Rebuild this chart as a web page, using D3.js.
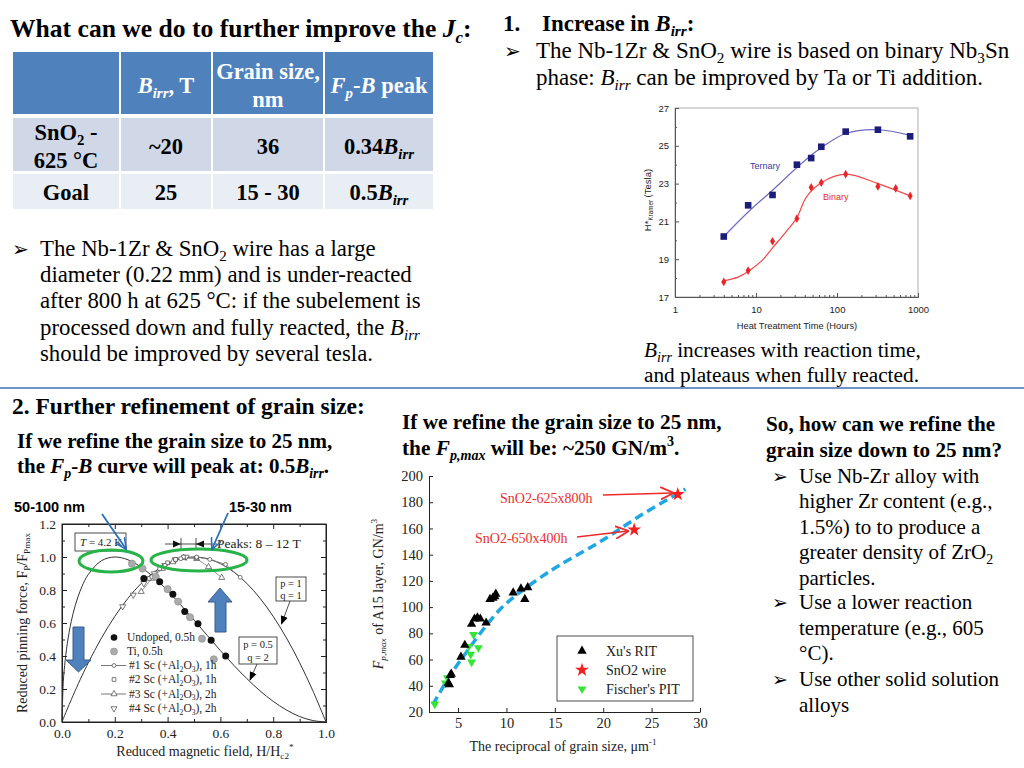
<!DOCTYPE html>
<html><head><meta charset="utf-8">
<script src="https://cdn.jsdelivr.net/npm/d3@7"></script>
<style>body{margin:0;background:#fff}</style>
</head><body>
<svg id="s" width="1024" height="768"></svg>
<script>
const SERIF = "'Liberation Serif','Times New Roman',serif";
const SANS = "'Liberation Sans',Arial,sans-serif";
const BUL = "'DejaVu Sans',sans-serif";

// ---------------- DATA ----------------
// Table
const tableRowNames = [["SnO2 -", "625 °C"], ["Goal"]];
const tableBirr = ["~20", "25"];
const tableGrain = ["36", "15 - 30"];
const tablePeak = ["0.34", "0.5"];

// Top-right chart: H*Kramer vs heat treatment time
const ternaryTime = [4, 8, 16, 32, 48, 64, 128, 320, 800];
const ternaryHk = [20.2, 21.85, 22.4, 24.0, 24.35, 24.95, 25.75, 25.85, 25.5];
const binaryTime = [4, 8, 16, 32, 48, 64, 128, 320, 530, 800];
const binaryHk = [17.8, 18.4, 19.95, 21.15, 22.8, 23.05, 23.5, 22.85, 22.75, 22.35];
const ternaryFitTime = [4, 8, 16, 32, 48, 64, 128, 320, 800];
const ternaryFitHk = [20.2, 21.5, 22.65, 23.85, 24.5, 24.9, 25.65, 25.85, 25.55];
const binaryFitTime = [4, 6, 8, 12, 16, 24, 32, 42, 64, 128, 320, 800];
const binaryFitHk = [17.85, 18.05, 18.35, 18.95, 19.6, 20.5, 21.2, 22.3, 23.05, 23.5, 23.0, 22.35];
const hkTicks = [17, 19, 21, 23, 25, 27];
const hkMinor = [18, 20, 22, 24, 26];
const timeTicks = [1, 10, 100, 1000];
const timeMinor = [2,3,4,5,6,7,8,9,20,30,40,50,60,70,80,90,200,300,400,500,600,700,800,900];

// Bottom-left chart: reduced pinning force vs reduced field
const curveH = [0, 0.005, 0.01, 0.02, 0.035, 0.05, 0.075, 0.1, 0.15, 0.2, 0.25, 0.3, 0.35, 0.4, 0.45, 0.5, 0.55, 0.6, 0.65, 0.7, 0.75, 0.8, 0.85, 0.9, 0.95, 1.0];
const curveP05Q2 = [0, 0.245, 0.342, 0.475, 0.609, 0.705, 0.819, 0.895, 0.978, 1.0, 0.983, 0.938, 0.873, 0.796, 0.709, 0.618, 0.525, 0.433, 0.345, 0.263, 0.189, 0.125, 0.073, 0.033, 0.009, 0];
const curveP1Q1 = [0, 0.02, 0.04, 0.078, 0.135, 0.19, 0.278, 0.36, 0.51, 0.64, 0.75, 0.84, 0.91, 0.96, 0.99, 1.0, 0.99, 0.96, 0.91, 0.84, 0.75, 0.64, 0.51, 0.36, 0.19, 0];
const undopedH = [0.31, 0.37, 0.42, 0.465, 0.515, 0.565, 0.62];
const undopedF = [0.87, 0.85, 0.775, 0.67, 0.595, 0.495, 0.40];
const tiH = [0.265, 0.305, 0.355, 0.40, 0.44, 0.485, 0.53, 0.575];
const tiF = [0.96, 0.93, 0.88, 0.805, 0.73, 0.635, 0.505, 0.38];
const sc1H = [0.34, 0.39, 0.45, 0.51, 0.56, 0.62, 0.675];
const sc1F = [0.88, 0.95, 0.99, 1.0, 0.985, 0.955, 0.877];
const sc2H = [0.33, 0.37, 0.40, 0.43, 0.46, 0.51];
const sc2F = [0.87, 0.93, 0.965, 0.985, 1.0, 0.995];
const sc3H = [0.30, 0.34, 0.38, 0.42, 0.46, 0.51, 0.555, 0.605];
const sc3F = [0.79, 0.87, 0.93, 0.97, 0.995, 0.99, 0.94, 0.875];
const sc4H = [0.23, 0.27, 0.31, 0.35, 0.39, 0.43, 0.47];
const sc4F = [0.70, 0.77, 0.84, 0.90, 0.95, 0.985, 1.0];
const fpTicks = [0, 0.2, 0.4, 0.6, 0.8, 1.0, 1.2];
const fpMinor = [0.1, 0.3, 0.5, 0.7, 0.9, 1.1];
const hTicks = [0, 0.2, 0.4, 0.6, 0.8, 1.0];
const hMinor = [0.1, 0.3, 0.5, 0.7, 0.9];

// Bottom-middle chart: Fp,max vs reciprocal grain size
const xuX = [4.0, 4.1, 4.2, 4.3, 5.3, 5.7, 6.4, 6.7, 7.0, 7.3, 7.9, 8.3, 8.6, 8.8, 8.9, 10.7, 11.5, 11.9, 12.2];
const xuY = [42, 41, 48, 49, 62, 71, 87, 91, 92, 91, 88, 106, 107, 108, 110, 111, 114, 106, 115];
const sno2X = [23.2, 27.7];
const sno2Y = [159, 186];
const fischerX = [2.6, 3.7, 3.9, 6.1, 6.3, 6.4, 6.6, 7.1];
const fischerY = [26, 42, 46, 70, 64, 58, 79, 69];
const fitX = [2.4, 4.1, 5.9, 7.4, 9.3, 11, 13.8, 15.5, 19.7, 24.1, 28.5];
const fitY = [25.6, 47, 66, 81, 98, 109, 124, 132, 150, 171, 190];
const recipTicks = [5, 10, 15, 20, 25, 30];
const fpmaxTicks = [20, 40, 60, 80, 100, 120, 140, 160, 180, 200];
const fpmaxLegend = ["Xu's RIT", "SnO2 wire", "Fischer's PIT"];

// ---------------- HELPERS ----------------
const svg = d3.select('#s');
svg.append('rect').attr('width', 1024).attr('height', 768).attr('fill', '#fff');

function rich(parent, x, y, segs, o) {
  const t = parent.append('text').attr('x', x).attr('y', y)
    .attr('font-family', o.ff || SERIF).attr('font-size', o.fs)
    .attr('font-weight', o.fw || 'normal').attr('fill', o.fill || '#000')
    .attr('text-anchor', o.anchor || 'start');
  if (o.transform) t.attr('transform', o.transform);
  let cur = 0;
  segs.forEach(s => {
    if (typeof s === 'string') s = { t: s };
    const target = s.sub ? o.fs * 0.22 : s.sup ? -o.fs * 0.4 : 0;
    const sp = t.append('tspan').text(s.t);
    if (target - cur !== 0) sp.attr('dy', target - cur);
    cur = target;
    if (s.sub || s.sup) sp.attr('font-size', o.fs * 0.66);
    if (s.it) sp.attr('font-style', 'italic');
    if (s.fw) sp.attr('font-weight', s.fw);
  });
  return t;
}
function bullet(x, y, fs) {
  svg.append('text').attr('x', x).attr('y', y).attr('font-family', BUL)
    .attr('font-size', fs).text('\u27A2');
}
const defs = svg.append('defs');
function marker(id, color, filled, size) {
  const m = defs.append('marker').attr('id', id).attr('viewBox', '0 0 10 10')
    .attr('refX', 9).attr('refY', 5).attr('markerWidth', size).attr('markerHeight', size)
    .attr('markerUnits', 'userSpaceOnUse').attr('orient', 'auto');
  if (filled) m.append('path').attr('d', 'M0,1 L10,5 L0,9 Z').attr('fill', color);
  else m.append('path').attr('d', 'M0,0.5 L9.5,5 L0,9.5').attr('fill', 'none').attr('stroke', color).attr('stroke-width', 1.3);
}
marker('aBlue', '#2a6fb8', false, 12);
marker('aRed', '#ee2b2b', false, 14);
marker('aBlk', '#000', true, 9);

// ---------------- HEADER + TABLE ----------------
rich(svg, 10, 37, ['What can we do to further improve the ', { t: 'J', it: 1 }, { t: 'c', sub: 1, it: 1 }, ':'], { fs: 25.6, fw: 'bold' });

const tbl = svg.append('g');
const colX = [13, 121, 213, 325], colW = [106, 90, 110, 108];
const rowY = [52, 118, 174], rowH = [62, 53, 35];
const rowFill = ['#4f81bd', '#d0d8e8', '#e9edf4'];
rowY.forEach((ry, r) => colX.forEach((cx, c) => {
  tbl.append('rect').attr('x', cx).attr('y', ry).attr('width', colW[c]).attr('height', rowH[r]).attr('fill', rowFill[r]);
}));
const cxm = colX.map((x, i) => x + colW[i] / 2);
const TF = 22.5;
const hOpt = { fs: TF, fw: 'bold', fill: '#fff', anchor: 'middle' };
rich(tbl, cxm[1], 93, [{ t: 'B', it: 1 }, { t: 'irr', sub: 1, it: 1 }, ', T'], hOpt);
rich(tbl, cxm[2], 79, ['Grain size,'], hOpt);
rich(tbl, cxm[2], 107, ['nm'], hOpt);
rich(tbl, cxm[3], 93, [{ t: 'F', it: 1 }, { t: 'p', sub: 1, it: 1 }, '-', { t: 'B', it: 1 }, ' peak'], hOpt);
const bOpt = { fs: TF, fw: 'bold', anchor: 'middle' };
const rowBase = [154, 200];
tableRowNames.forEach((nm, r) => {
  if (nm.length === 2) {
    rich(tbl, cxm[0], 140, ['SnO', { t: '2', sub: 1 }, ' -'], bOpt);
    rich(tbl, cxm[0], 168, [nm[1]], bOpt);
  } else rich(tbl, cxm[0], rowBase[r], [nm[0]], bOpt);
  rich(tbl, cxm[1], rowBase[r], [tableBirr[r]], bOpt);
  rich(tbl, cxm[2], rowBase[r], [tableGrain[r]], bOpt);
  rich(tbl, cxm[3], rowBase[r], [tablePeak[r], { t: 'B', it: 1 }, { t: 'irr', sub: 1, it: 1 }], bOpt);
});

// ---------------- TOP RIGHT TEXT ----------------
rich(svg, 503, 31, ['1.'], { fs: 23, fw: 'bold' });
rich(svg, 542, 31, ['Increase in ', { t: 'B', it: 1 }, { t: 'irr', sub: 1, it: 1 }, ':'], { fs: 23, fw: 'bold' });
bullet(504, 58, 20);
rich(svg, 536, 58, ['The Nb-1Zr & SnO', { t: '2', sub: 1 }, ' wire is based on binary Nb', { t: '3', sub: 1 }, 'Sn'], { fs: 23 });
rich(svg, 536, 85, ['phase: ', { t: 'B', it: 1 }, { t: 'irr', sub: 1, it: 1 }, ' can be improved by Ta or Ti addition.'], { fs: 23 });

// ---------------- LEFT PARAGRAPH ----------------
const pOpt = { fs: 22.8 };
bullet(12, 256, 20);
rich(svg, 40, 256, ['The Nb-1Zr & SnO', { t: '2', sub: 1 }, ' wire has a large'], pOpt);
rich(svg, 40, 282, ['diameter (0.22 mm) and is under-reacted'], pOpt);
rich(svg, 40, 308, ['after 800 h at 625 °C: if the subelement is'], pOpt);
rich(svg, 40, 335, ['processed down and fully reacted, the ', { t: 'B', it: 1 }, { t: 'irr', sub: 1, it: 1 }], pOpt);
rich(svg, 40, 361, ['should be improved by several tesla.'], pOpt);

// ---------------- TOP RIGHT CHART ----------------
{
  const g = svg.append('g');
  const x = d3.scaleLog().domain([1, 1000]).range([675, 918]);
  const y = d3.scaleLinear().domain([17, 27]).range([297, 108]);
  g.append('rect').attr('x', 675).attr('y', 108).attr('width', 243).attr('height', 189)
    .attr('fill', 'none').attr('stroke', '#9a9a9a').attr('stroke-width', 0.8);
  const ya = g.append('g').attr('transform', 'translate(675,0)')
    .call(d3.axisLeft(y).tickValues(hkTicks).tickSize(-4).tickSizeOuter(0).tickPadding(6).tickFormat(d3.format('d')));
  g.append('g').attr('transform', 'translate(675,0)')
    .call(d3.axisLeft(y).tickValues(hkMinor).tickSize(-2).tickSizeOuter(0).tickFormat(''));
  const xa = g.append('g').attr('transform', 'translate(0,297)')
    .call(d3.axisBottom(x).tickValues(timeTicks).tickSize(-4).tickSizeOuter(0).tickPadding(9).tickFormat(d3.format('d')));
  g.append('g').attr('transform', 'translate(0,297)')
    .call(d3.axisBottom(x).tickValues(timeMinor).tickSize(-2).tickSizeOuter(0).tickFormat(''));
  g.selectAll('.domain').attr('stroke', '#555');
  g.selectAll('.tick line').attr('stroke', '#555');
  [ya, xa].forEach(a => a.attr('font-family', SANS).attr('font-size', 9.5).selectAll('text').attr('fill', '#222'));
  const line = d3.line().x(d => x(d[0])).y(d => y(d[1])).curve(d3.curveCatmullRom.alpha(0.5));
  g.append('path').datum(ternaryFitTime.map((t, i) => [t, ternaryFitHk[i]])).attr('d', line)
    .attr('fill', 'none').attr('stroke', '#6a6ac4').attr('stroke-width', 1.2);
  g.append('path').datum(binaryFitTime.map((t, i) => [t, binaryFitHk[i]])).attr('d', line)
    .attr('fill', 'none').attr('stroke', '#f04848').attr('stroke-width', 1.2);
  g.selectAll('.tsq').data(ternaryTime).enter().append('rect')
    .attr('x', (d) => x(d) - 3.3).attr('y', (d, i) => y(ternaryHk[i]) - 3.3)
    .attr('width', 6.6).attr('height', 6.6).attr('fill', '#1c1c7a');
  g.selectAll('.bdot').data(binaryTime).enter().append('path')
    .attr('transform', (d, i) => `translate(${x(d)},${y(binaryHk[i])})`)
    .attr('d', d3.symbol().type(d3.symbolDiamond).size(22)).attr('fill', '#e8262a');
  g.append('text').attr('x', 750).attr('y', 169).attr('font-family', SANS).attr('font-size', 9).attr('fill', '#3b3b9b').text('Ternary');
  g.append('text').attr('x', 823).attr('y', 200).attr('font-family', SANS).attr('font-size', 9).attr('fill', '#e52a2a').text('Binary');
  rich(g, 0, 0, ['H*', { t: 'Kramer', sub: 1 }, ' (Tesla)'], { fs: 9.5, ff: SANS, anchor: 'middle', fill: '#222', transform: 'translate(651,200) rotate(-90)' });
  g.append('text').attr('x', 797).attr('y', 329).attr('font-family', SANS).attr('font-size', 9.3).attr('text-anchor', 'middle').attr('fill', '#222').text('Heat Treatment Time (Hours)');
}
rich(svg, 644, 357, [{ t: 'B', it: 1 }, { t: 'irr', sub: 1, it: 1 }, ' increases with reaction time,'], { fs: 21.3 });
rich(svg, 644, 382, ['and plateaus when fully reacted.'], { fs: 21.3 });

// separator
svg.append('line').attr('x1', 0).attr('x2', 1024).attr('y1', 388).attr('y2', 388).attr('stroke', '#6f93c6').attr('stroke-width', 2);

// ---------------- SECTION 2 TEXT ----------------
rich(svg, 12, 414, ['2. Further refinement of grain size:'], { fs: 23.5, fw: 'bold' });
rich(svg, 17, 448, ['If we refine the grain size to 25 nm,'], { fs: 21, fw: 'bold' });
rich(svg, 17, 473, ['the ', { t: 'F', it: 1 }, { t: 'p', sub: 1, it: 1 }, '-', { t: 'B', it: 1 }, ' curve will peak at: 0.5', { t: 'B', it: 1 }, { t: 'irr', sub: 1, it: 1 }, '.'], { fs: 21, fw: 'bold' });
rich(svg, 402, 429, ['If we refine the grain size to 25 nm,'], { fs: 21.3, fw: 'bold' });
rich(svg, 402, 455, ['the ', { t: 'F', it: 1 }, { t: 'p,max', sub: 1, it: 1 }, ' will be: ~250 GN/m', { t: '3', sup: 1 }, '.'], { fs: 21.3, fw: 'bold' });

// right column
rich(svg, 766, 431, ['So, how can we refine the'], { fs: 21.2, fw: 'bold' });
rich(svg, 766, 457, ['grain size down to 25 nm?'], { fs: 21.2, fw: 'bold' });
const rOpt = { fs: 21 };
const rLines = [
  [483, true, ['Use Nb-Zr alloy with']],
  [508, false, ['higher Zr content (e.g.,']],
  [534, false, ['1.5%) to to produce a']],
  [559, false, ['greater density of ZrO', { t: '2', sub: 1 }]],
  [585, false, ['particles.']],
  [609, true, ['Use a lower reaction']],
  [635, false, ['temperature (e.g., 605']],
  [660, false, ['°C).']],
  [686, true, ['Use other solid solution']],
  [712, false, ['alloys']]
];
rLines.forEach(l => { if (l[1]) bullet(772, l[0], 19); rich(svg, 799, l[0], l[2], rOpt); });

// ---------------- BOTTOM-LEFT CHART ----------------
{
  const g = svg.append('g');
  const x = d3.scaleLinear().domain([0, 1]).range([62, 326]);
  const y = d3.scaleLinear().domain([0, 1.2]).range([722, 524]);
  g.append('rect').attr('x', 62).attr('y', 524).attr('width', 264).attr('height', 198).attr('fill', 'none').attr('stroke', '#222').attr('stroke-width', 1);
  const ax = [];
  ax.push(g.append('g').attr('transform', 'translate(62,0)').call(d3.axisLeft(y).tickValues(fpTicks).tickSize(-5).tickSizeOuter(0).tickPadding(6).tickFormat(d3.format('.1f'))));
  g.append('g').attr('transform', 'translate(62,0)').call(d3.axisLeft(y).tickValues(fpMinor).tickSize(-3).tickSizeOuter(0).tickFormat(''));
  g.append('g').attr('transform', 'translate(326,0)').call(d3.axisRight(y).tickValues(fpTicks).tickSize(-5).tickSizeOuter(0).tickFormat(''));
  g.append('g').attr('transform', 'translate(326,0)').call(d3.axisRight(y).tickValues(fpMinor).tickSize(-3).tickSizeOuter(0).tickFormat(''));
  ax.push(g.append('g').attr('transform', 'translate(0,722)').call(d3.axisBottom(x).tickValues(hTicks).tickSize(-5).tickSizeOuter(0).tickPadding(6).tickFormat(d3.format('.1f'))));
  g.append('g').attr('transform', 'translate(0,722)').call(d3.axisBottom(x).tickValues(hMinor).tickSize(-3).tickSizeOuter(0).tickFormat(''));
  g.append('g').attr('transform', 'translate(0,524)').call(d3.axisTop(x).tickValues(hTicks).tickSize(-5).tickSizeOuter(0).tickFormat(''));
  g.append('g').attr('transform', 'translate(0,524)').call(d3.axisTop(x).tickValues(hMinor).tickSize(-3).tickSizeOuter(0).tickFormat(''));
  g.selectAll('.domain').attr('stroke', '#222');
  g.selectAll('.tick line').attr('stroke', '#222');
  ax.forEach(a => a.attr('font-family', SERIF).attr('font-size', 13.5).selectAll('text').attr('fill', '#222'));
  const lc = d3.line().x(d => x(d[0])).y(d => y(d[1])).curve(d3.curveCatmullRom.alpha(0.5));
  g.append('path').datum(curveH.map((h, i) => [h, curveP05Q2[i]])).attr('d', lc).attr('fill', 'none').attr('stroke', '#333').attr('stroke-width', 1);
  g.append('path').datum(curveH.map((h, i) => [h, curveP1Q1[i]])).attr('d', lc).attr('fill', 'none').attr('stroke', '#333').attr('stroke-width', 1);
  const ll = d3.line().x(d => x(d[0])).y(d => y(d[1]));
  g.append('path').datum(sc1H.map((h, i) => [h, sc1F[i]])).attr('d', ll).attr('fill', 'none').attr('stroke', '#777').attr('stroke-width', 0.8);
  g.append('path').datum(sc3H.map((h, i) => [h, sc3F[i]])).attr('d', ll).attr('fill', 'none').attr('stroke', '#777').attr('stroke-width', 0.8);
  const open = (hs, fs, type, size, rot) => g.append('g').selectAll('path').data(hs).enter().append('path')
    .attr('transform', (d, i) => `translate(${x(d)},${y(fs[i])})${rot ? ' rotate(180)' : ''}`)
    .attr('d', d3.symbol().type(type).size(size)).attr('fill', '#fff').attr('stroke', '#444').attr('stroke-width', 0.7);
  open(sc4H, sc4F, d3.symbolTriangle, 16, true);
  open(sc3H, sc3F, d3.symbolTriangle, 16, false);
  open(sc2H, sc2F, d3.symbolSquare, 14, false);
  open(sc1H, sc1F, d3.symbolCircle, 12, false);
  g.append('g').selectAll('circle').data(tiH).enter().append('circle')
    .attr('cx', d => x(d)).attr('cy', (d, i) => y(tiF[i])).attr('r', 3.6).attr('fill', '#ababab').attr('stroke', '#8a8a8a').attr('stroke-width', 0.6);
  g.append('g').selectAll('circle').data(undopedH).enter().append('circle')
    .attr('cx', d => x(d)).attr('cy', (d, i) => y(undopedF[i])).attr('r', 3.5).attr('fill', '#111');
  // legend
  const lgY = [641, 655, 669, 683, 697.5, 712];
  const lgX = 114, lgT = 127;
  const lo = { fs: 11.5, fill: '#222' };
  g.append('circle').attr('cx', lgX).attr('cy', lgY[0] - 3.5).attr('r', 3.3).attr('fill', '#111');
  rich(g, lgT, lgY[0], ['Undoped, 0.5h'], lo);
  g.append('circle').attr('cx', lgX).attr('cy', lgY[1] - 3.5).attr('r', 3.5).attr('fill', '#ababab').attr('stroke', '#8a8a8a').attr('stroke-width', 0.6);
  rich(g, lgT, lgY[1], ['Ti, 0.5h'], lo);
  const lsym = [[d3.symbolCircle, 12, false, true], [d3.symbolSquare, 14, false, false], [d3.symbolTriangle, 16, false, true], [d3.symbolTriangle, 16, true, false]];
  lsym.forEach((s, k) => {
    const yy = lgY[k + 2] - 3.5;
    if (s[3]) g.append('line').attr('x1', 101).attr('x2', 126).attr('y1', yy).attr('y2', yy).attr('stroke', '#555').attr('stroke-width', 0.8);
    g.append('path').attr('transform', `translate(${lgX},${yy})${s[2] ? ' rotate(180)' : ''}`).attr('d', d3.symbol().type(s[0]).size(s[1]))
      .attr('fill', '#fff').attr('stroke', '#444').attr('stroke-width', 0.7);
    rich(g, lgT + 2, lgY[k + 2], ['#' + (k + 1) + ' Sc (+Al', { t: '2', sub: 1 }, 'O', { t: '3', sub: 1 }, '), ' + (k < 2 ? '1h' : '2h')], lo);
  });
  // titles
  rich(g, 0, 0, ['Reduced pinning force, F', { t: 'P', sub: 1 }, '/F', { t: 'Pmax', sub: 1 }], { fs: 14, fill: '#222', anchor: 'middle', transform: 'translate(27,623) rotate(-90)' });
  rich(g, 205, 756, ['Reduced magnetic field, H/H', { t: 'c2', sub: 1 }, { t: '*', sup: 1 }], { fs: 14, fill: '#222', anchor: 'middle' });
  // annotations
  g.append('rect').attr('x', 75).attr('y', 533).attr('width', 51).attr('height', 18).attr('fill', '#fff').attr('stroke', '#222').attr('stroke-width', 0.8);
  rich(g, 80, 546, [{ t: 'T', it: 1 }, ' = 4.2 K'], { fs: 11, fill: '#222' });
  rich(g, 217, 548, ['Peaks: 8 \u2013 12 T'], { fs: 13.5, fill: '#222' });
  g.append('line').attr('x1', 165).attr('x2', 217).attr('y1', 544).attr('y2', 544).attr('stroke', '#222').attr('stroke-width', 0.8);
  [181, 196].forEach(v => g.append('line').attr('x1', v).attr('x2', v).attr('y1', 538).attr('y2', 550).attr('stroke', '#222').attr('stroke-width', 0.8));
  g.append('path').attr('d', 'M173,540.5 L181,544 L173,547.5 Z').attr('fill', '#111');
  g.append('path').attr('d', 'M204,540.5 L196,544 L204,547.5 Z').attr('fill', '#111');
  g.append('rect').attr('x', 276).attr('y', 577).attr('width', 30).attr('height', 24).attr('fill', '#fff').attr('stroke', '#222').attr('stroke-width', 0.8);
  rich(g, 291, 587, ['p = 1'], { fs: 10.5, anchor: 'middle', fill: '#222' });
  rich(g, 291, 598.5, ['q = 1'], { fs: 10.5, anchor: 'middle', fill: '#222' });
  g.append('line').attr('x1', 290).attr('y1', 601).attr('x2', 281.5).attr('y2', 624).attr('stroke', '#222').attr('stroke-width', 0.8).attr('marker-end', 'url(#aBlk)');
  g.append('rect').attr('x', 239).attr('y', 637).attr('width', 38).attr('height', 27).attr('fill', '#fff').attr('stroke', '#222').attr('stroke-width', 0.8);
  rich(g, 258, 648, ['p = 0.5'], { fs: 10.5, anchor: 'middle', fill: '#222' });
  rich(g, 258, 660.5, ['q = 2'], { fs: 10.5, anchor: 'middle', fill: '#222' });
  g.append('line').attr('x1', 257).attr('y1', 664).attr('x2', 250).attr('y2', 680).attr('stroke', '#222').attr('stroke-width', 0.8).attr('marker-end', 'url(#aBlk)');
  // green ellipses
  g.append('ellipse').attr('cx', 111).attr('cy', 561).attr('rx', 32).attr('ry', 11).attr('fill', 'none').attr('stroke', '#27b34a').attr('stroke-width', 3);
  g.append('ellipse').attr('cx', 199).attr('cy', 560).attr('rx', 48).attr('ry', 11).attr('fill', 'none').attr('stroke', '#27b34a').attr('stroke-width', 3);
  // block arrows
  g.append('path').attr('d', 'M73,627 H84 V660 H91 L78.5,672 L66,660 H73 Z').attr('fill', '#4f81bd').attr('stroke', '#385d8a').attr('stroke-width', 1);
  g.append('path').attr('d', 'M220,588 L232,602 H226 V632 H215 V602 H208 Z').attr('fill', '#4f81bd').attr('stroke', '#385d8a').attr('stroke-width', 1);
  // blue callout arrows + labels
  g.append('line').attr('x1', 102).attr('y1', 514).attr('x2', 126).attr('y2', 549).attr('stroke', '#2a6fb8').attr('stroke-width', 1.8).attr('marker-end', 'url(#aBlue)');
  g.append('line').attr('x1', 228).attr('y1', 513).attr('x2', 212).attr('y2', 549).attr('stroke', '#2a6fb8').attr('stroke-width', 1.8).attr('marker-end', 'url(#aBlue)');
  g.append('text').attr('x', 14).attr('y', 512).attr('font-family', SANS).attr('font-weight', 'bold').attr('font-size', 14.5).text('50-100 nm');
  g.append('text').attr('x', 229).attr('y', 512).attr('font-family', SANS).attr('font-weight', 'bold').attr('font-size', 14.5).text('15-30 nm');
}

// ---------------- BOTTOM-MIDDLE CHART ----------------
{
  const g = svg.append('g');
  const x = d3.scaleLinear().domain([2, 30]).range([429, 700]);
  const y = d3.scaleLinear().domain([20, 200]).range([712, 476]);
  const ya = g.append('g').attr('transform', 'translate(429,0)').call(d3.axisLeft(y).tickValues(fpmaxTicks).tickSize(-4).tickSizeOuter(0).tickPadding(6));
  const xa = g.append('g').attr('transform', 'translate(0,712)').call(d3.axisBottom(x).tickValues(recipTicks).tickSize(-4).tickSizeOuter(0).tickPadding(6));
  g.selectAll('.domain').attr('stroke', '#222');
  g.selectAll('.tick line').attr('stroke', '#222');
  [ya, xa].forEach(a => a.attr('font-family', SERIF).attr('font-size', 14.5).selectAll('text').attr('fill', '#222'));
  g.append('path').datum(fitX.map((v, i) => [v, fitY[i]]))
    .attr('d', d3.line().x(d => x(d[0])).y(d => y(d[1])).curve(d3.curveCatmullRom.alpha(0.5)))
    .attr('fill', 'none').attr('stroke', '#1ea7e3').attr('stroke-width', 3.5).attr('stroke-dasharray', '9,5');
  g.append('g').selectAll('path').data(fischerX).enter().append('path')
    .attr('transform', (d, i) => `translate(${x(d)},${y(fischerY[i])}) rotate(180)`)
    .attr('d', d3.symbol().type(d3.symbolTriangle).size(34)).attr('fill', '#33e633');
  g.append('g').selectAll('path').data(xuX).enter().append('path')
    .attr('transform', (d, i) => `translate(${x(d)},${y(xuY[i])})`)
    .attr('d', d3.symbol().type(d3.symbolTriangle).size(38)).attr('fill', '#000');
  g.append('g').selectAll('path').data(sno2X).enter().append('path')
    .attr('transform', (d, i) => `translate(${x(d)},${y(sno2Y[i])})`)
    .attr('d', d3.symbol().type(d3.symbolStar).size(60)).attr('fill', '#f51e1e');
  // annotations
  g.append('text').attr('x', 500).attr('y', 503).attr('font-family', SERIF).attr('font-size', 14).attr('fill', '#e8302e').text('SnO2-625x800h');
  g.append('line').attr('x1', 603).attr('y1', 495).attr('x2', 673).attr('y2', 493).attr('stroke', '#ee2b2b').attr('stroke-width', 1.3).attr('marker-end', 'url(#aRed)');
  g.append('text').attr('x', 475).attr('y', 543).attr('font-family', SERIF).attr('font-size', 14).attr('fill', '#e8302e').text('SnO2-650x400h');
  g.append('line').attr('x1', 577).attr('y1', 537).attr('x2', 628).attr('y2', 531).attr('stroke', '#ee2b2b').attr('stroke-width', 1.3).attr('marker-end', 'url(#aRed)');
  // legend
  g.append('rect').attr('x', 557).attr('y', 636).attr('width', 136).attr('height', 65).attr('fill', '#fff').attr('stroke', '#222').attr('stroke-width', 0.8);
  const ly = [651, 670, 689];
  g.append('path').attr('transform', `translate(582,${ly[0]})`).attr('d', d3.symbol().type(d3.symbolTriangle).size(38)).attr('fill', '#000');
  g.append('path').attr('transform', `translate(582,${ly[1]})`).attr('d', d3.symbol().type(d3.symbolStar).size(60)).attr('fill', '#f51e1e');
  g.append('path').attr('transform', `translate(582,${ly[2]}) rotate(180)`).attr('d', d3.symbol().type(d3.symbolTriangle).size(34)).attr('fill', '#33e633');
  fpmaxLegend.forEach((t, i) => g.append('text').attr('x', 606).attr('y', ly[i] + 5).attr('font-family', SERIF).attr('font-size', 14).attr('fill', '#222').text(t));
  // titles
  rich(g, 0, 0, [{ t: 'F', it: 1 }, { t: 'p,max', sub: 1, it: 1 }, ' of A15 layer, GN/m', { t: '3', sup: 1 }], { fs: 14, fill: '#222', anchor: 'middle', transform: 'translate(383,594) rotate(-90)' });
  rich(g, 563, 751, ['The reciprocal of grain size, \u03BCm', { t: '-1', sup: 1 }], { fs: 14, fill: '#222', anchor: 'middle' });
}
</script>
</body></html>
